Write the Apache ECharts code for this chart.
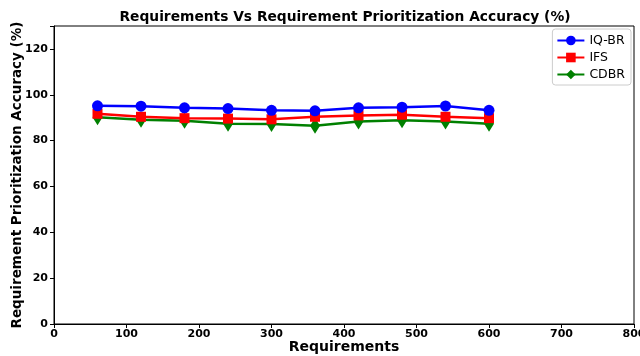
<!DOCTYPE html>
<html><head><meta charset="utf-8">
<script src="https://cdn.jsdelivr.net/npm/echarts@6/dist/echarts.min.js"></script>
<style>html,body{margin:0;padding:0;background:#fff}#c{width:640px;height:356px}</style>
</head><body><div id="c"></div>
<script>
const requirements = [60,120,180,240,300,360,420,480,540,600];
const iqbr = [95.2,95.0,94.3,94.0,93.2,93.0,94.3,94.6,95.1,93.2];
const ifs = [91.7,90.4,89.8,89.6,89.3,90.4,91.0,91.3,90.4,89.8];
const cdbr = [90.2,89.1,88.7,87.4,87.2,86.5,88.3,88.9,88.3,87.4];
const F = 'DejaVu Sans';
function pairs(v){return requirements.map((x,i)=>[x,v[i]]);}
const chart = echarts.init(document.getElementById('c'));
const diamond = 'path://M0,-1 L0.6,0 L0,1 L-0.6,0 Z';
chart.setOption({
  animation:false,
  title:{text:'Requirements Vs Requirement Prioritization Accuracy (%)',left:340,textAlign:'center',top:5,
    textStyle:{fontFamily:F,fontWeight:'bold',fontSize:13.8,color:'#000'}},
  grid:{left:54,right:6,top:26,bottom:32,outerBoundsMode:'none',containLabel:false},
  legend:{right:9,top:29,orient:'vertical',itemWidth:27,itemHeight:12,itemGap:4,
    textStyle:{fontFamily:F,fontSize:12.5,color:'#000'},
    borderColor:'#ccc',borderWidth:1,borderRadius:3,padding:[5,6,4,4],
    data:['IQ-BR','IFS','CDBR']},
  xAxis:{type:'value',min:0,max:800,interval:100,name:'Requirements',nameLocation:'middle',nameGap:16,nameMoveOverlap:false,
    nameTextStyle:{fontFamily:F,fontWeight:'bold',fontSize:14,color:'#000'},
    axisLine:{lineStyle:{color:'#000'}},axisTick:{length:4,lineStyle:{color:'#000'}},
    axisLabel:{fontFamily:F,fontWeight:'bold',fontSize:11,color:'#000',margin:5},splitLine:{show:false}},
  yAxis:{type:'value',min:0,max:130,interval:20,name:'Requirement Prioritization Accuracy (%)',nameLocation:'middle',nameGap:30,nameMoveOverlap:false,
    nameTextStyle:{fontFamily:F,fontWeight:'bold',fontSize:13.5,color:'#000'},
    axisLine:{show:true,lineStyle:{color:'#000'}},axisTick:{show:true,length:4,lineStyle:{color:'#000'}},
    axisLabel:{fontFamily:F,fontWeight:'bold',fontSize:11,color:'#000',margin:6,
      formatter:v=>v>120?'':v},splitLine:{show:false}},
  series:[
    {name:'IQ-BR',type:'line',data:pairs(iqbr),symbol:'circle',symbolSize:11,
      lineStyle:{color:'#0000ff',width:2.5},itemStyle:{color:'#0000ff'},z:3},
    {name:'IFS',type:'line',data:pairs(ifs),symbol:'rect',symbolSize:10,
      lineStyle:{color:'#ff0000',width:2.5},itemStyle:{color:'#ff0000'},z:2},
    {name:'CDBR',type:'line',data:pairs(cdbr),symbol:diamond,symbolSize:[10,16],
      lineStyle:{color:'#008000',width:2.5},itemStyle:{color:'#008000'},z:1}
  ],
  graphic:[{type:'rect',shape:{x:54,y:26,width:580,height:298},style:{fill:'none',stroke:'#000',lineWidth:1},silent:true,z:0}]
});
</script></body></html>
